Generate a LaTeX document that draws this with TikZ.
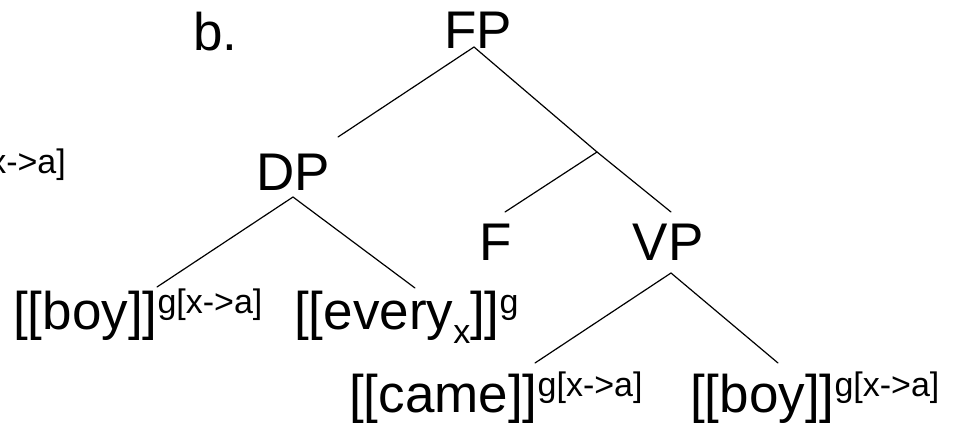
\documentclass[tikz,border=0pt]{standalone}
\usepackage{fontspec}
\setmainfont{Liberation Sans}
\newcommand{\mysup}[1]{\raisebox{16pt}{\fontsize{34}{34}\selectfont #1}}
\newcommand{\mysub}[1]{\raisebox{-14pt}{\fontsize{34}{34}\selectfont #1}}
\tikzset{
  lbl/.style={inner sep=0pt, anchor=base west, font=\fontsize{53}{60}\selectfont},
  suplbl/.style={inner sep=0pt, font=\fontsize{34}{34}\selectfont},
  branch/.style={line width=1.2pt, line cap=round}
}
\begin{document}
\begin{tikzpicture}[x=1pt,y=-1pt]
\useasboundingbox (0,0) rectangle (953,423);
\clip (0,0) rectangle (953,423);
% labels
\node[suplbl, anchor=base east] (cut) at (66,173) {[x->a]};
\node[lbl] (b) at (193,50) {b.};
\node[lbl, anchor=base] (FP) at (478,48) {FP};
\node[lbl, anchor=base] (DP) at (293,190) {DP};
\node[lbl, anchor=base] (F) at (496,260) {F};
\node[lbl, anchor=base] (VP) at (668,260) {VP};
\node[lbl] (boyL) at (13,329) {[[boy]]\mysup{g[x->a]}};
\node[lbl] (every) at (294,329) {[[every\mysub{x}]]\mysup{g}};
\node[lbl] (came) at (349,412) {[[came]]\mysup{g[x->a]}};
\node[lbl] (boyR) at (690,412) {[[boy]]\mysup{g[x->a]}};
% branch end points
\coordinate (fpB) at (474,47);
\coordinate (dpT) at (338,137);
\coordinate (jn) at (597,152);
\coordinate (fT) at (505,212);
\coordinate (vpT) at (671,212);
\coordinate (dpB) at (293,197);
\coordinate (boyLT) at (157,287);
\coordinate (everyT) at (415,288);
\coordinate (vpB) at (671,273);
\coordinate (cameT) at (535,363);
\coordinate (boyRT) at (778,363);
% branches
\draw[branch] (dpT) -- (fpB) -- (jn) -- (vpT);
\draw[branch] (jn) -- (fT);
\draw[branch] (boyLT) -- (dpB) -- (everyT);
\draw[branch] (cameT) -- (vpB) -- (boyRT);
\end{tikzpicture}
\end{document}
